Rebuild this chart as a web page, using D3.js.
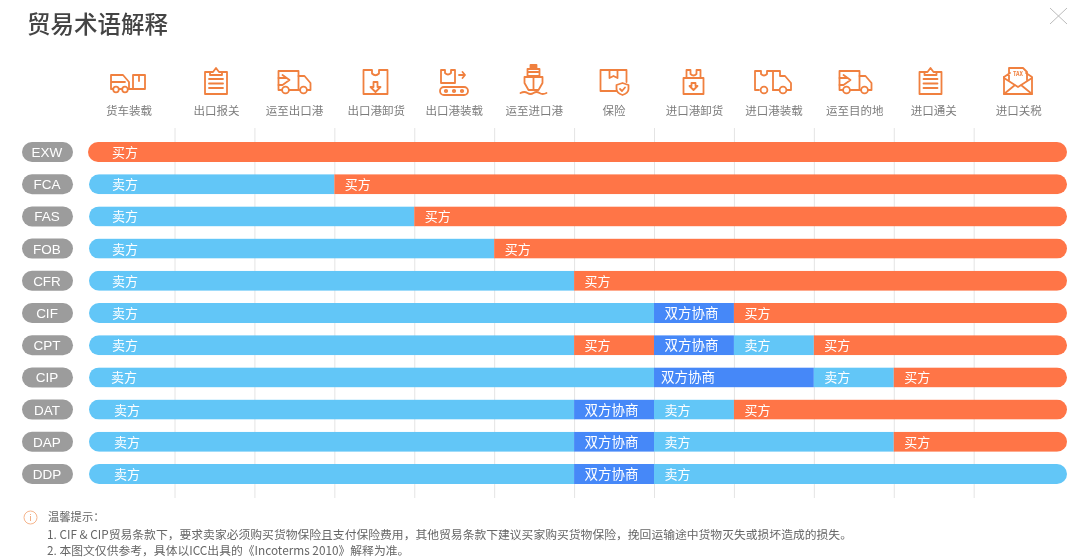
<!DOCTYPE html>
<html>
<head>
<meta charset="utf-8">
<script src="https://cdn.jsdelivr.net/npm/d3@7"></script>
<style>
  html, body { margin: 0; padding: 0; background: #fff; }
  svg { display: block; filter: blur(0.4px); }
  text { font-family: "Noto Sans CJK SC", "Noto Sans", sans-serif; }
</style>
</head>
<body>
<div id="chart"></div>
<script>
// trade terms, top to bottom
var terms = ["EXW", "FCA", "FAS", "FOB", "CFR", "CIF", "CPT", "CIP", "DAT", "DAP", "DDP"];

// the twelve stages of a shipment
var stages = ["货车装载", "出口报关", "运至出口港", "出口港卸货", "出口港装载", "运至进口港",
              "保险", "进口港卸货", "进口港装载", "运至目的地", "进口通关", "进口关税"];

// who pays, one row per term: each segment runs up to the stage count in rowEnds
var rowParties = [
    ["买方"],
    ["卖方", "买方"],
    ["卖方", "买方"],
    ["卖方", "买方"],
    ["卖方", "买方"],
    ["卖方", "双方协商", "买方"],
    ["卖方", "买方", "双方协商", "卖方", "买方"],
    ["卖方", "双方协商", "卖方", "买方"],
    ["卖方", "双方协商", "卖方", "买方"],
    ["卖方", "双方协商", "卖方", "买方"],
    ["卖方", "双方协商", "卖方"]
];
var rowEnds = [
    [12],
    [3, 12],
    [4, 12],
    [5, 12],
    [6, 12],
    [7, 8, 12],
    [6, 7, 8, 9, 12],
    [7, 9, 10, 12],
    [6, 7, 8, 12],
    [6, 7, 10, 12],
    [6, 7, 12]
];

var noteTitle = "温馨提示：";
var notes = [
    "1. CIF & CIP贸易条款下，要求卖家必须购买货物保险且支付保险费用，其他贸易条款下建议买家购买货物保险，挽回运输途中货物灭失或损坏造成的损失。",
    "2. 本图文仅供参考，具体以ICC出具的《Incoterms 2010》解释为准。"
];

var svgWidth = 1080;
var svgHeight = 559;
var barLeft = 89;
var barRight = 1067;
var barHeight = 20;
var iconColor = "#f0803f";

var partyColor = d3.scaleOrdinal()
    .domain(["买方", "卖方", "双方协商"])
    .range(["#ff7547", "#62c6f7", "#4688f8"]);

var svg = d3.select("#chart")
    .append("svg")
    .attr("width", svgWidth)
    .attr("height", svgHeight);

var xScale = d3.scaleLinear().domain([0, 12]).range([94.6, 1053.6]);
var yScale = d3.scalePoint().domain(terms).range([152, 474]);

// title and close button
svg.append("text")
    .attr("x", 27)
    .attr("y", 33)
    .attr("fill", "#444")
    .attr("font-size", 23.5)
    .attr("font-weight", 500)
    .text("贸易术语解释");

svg.append("path")
    .attr("d", "M1050,8L1067,24M1067,8L1050,24")
    .attr("stroke", "#bbb")
    .attr("fill", "none");

// vertical grid comes from an axis with long ticks
var grid = svg.append("g")
    .attr("transform", "translate(0,128)")
    .call(d3.axisBottom(xScale).tickValues(d3.range(1, 12)).tickSize(370).tickFormat(""));
grid.select(".domain").remove();
grid.selectAll("line").attr("stroke", "#e4e4e4");

// stage labels
var labelNudge = { 0: -5.5, 1: 2, 3: 2, 7: 0.5, 9: 1, 11: 5 };
svg.selectAll("text.stage")
    .data(stages)
    .enter()
    .append("text")
    .attr("class", "stage")
    .attr("x", (d, i) => xScale(i + 0.5) + (labelNudge[i] || 0))
    .attr("y", 115)
    .attr("text-anchor", "middle")
    .attr("fill", "#7c7c7c")
    .attr("font-size", 11.5)
    .text(d => d);

// rows
var defs = svg.append("defs");
terms.forEach(function(term, r) {
    var y = yScale(term) - barHeight / 2;
    var left = r == 0 ? barLeft - 1 : barLeft;

    defs.append("clipPath")
        .attr("id", "row" + r)
        .append("rect")
        .attr("x", left)
        .attr("y", y)
        .attr("width", barRight - left)
        .attr("height", barHeight)
        .attr("rx", 10);

    // pill with the term name
    svg.append("rect")
        .attr("x", 22)
        .attr("y", y)
        .attr("width", 51)
        .attr("height", barHeight)
        .attr("rx", 10)
        .attr("fill", "#9c9c9c");
    svg.append("text")
        .attr("x", 47)
        .attr("y", y + 15)
        .attr("text-anchor", "middle")
        .attr("fill", "#fff")
        .style("font-family", "'Liberation Sans'")
        .attr("font-size", 13.5)
        .text(term);

    var row = svg.append("g").attr("clip-path", "url(#row" + r + ")");
    var start = 0;
    rowParties[r].forEach(function(party, s) {
        var end = rowEnds[r][s];
        var x0 = start == 0 ? left : xScale(start);
        var x1 = end == 12 ? barRight : xScale(end);
        row.append("rect")
            .attr("x", x0)
            .attr("y", y)
            .attr("width", x1 - x0)
            .attr("height", barHeight)
            .attr("fill", partyColor(party));

        // first label sits a bit further in, a few rows are offset in the original
        var textX = start == 0 ? 112 + (r >= 8 ? 2 : 0) - (r == 7 ? 1 : 0) : xScale(start) + 10.5;
        if (r == 7 && s == 1) textX -= 3.5;
        svg.append("text")
            .attr("x", textX)
            .attr("y", y + 15)
            .attr("fill", "#fff")
            .attr("font-size", party == "双方协商" ? 13.5 : 13)
            .text(party);
        start = end;
    });
});

// icons
function icon(cx, cy) {
    return svg.append("g")
        .attr("transform", "translate(" + cx + "," + cy + ")")
        .attr("fill", "none")
        .attr("stroke", iconColor)
        .attr("stroke-width", 1.8)
        .attr("stroke-linejoin", "round")
        .attr("stroke-linecap", "round");
}
function p(g, d) { g.append("path").attr("d", d); }
function c(g, x, y, r) { g.append("circle").attr("cx", x).attr("cy", y).attr("r", r).attr("fill", "#fff"); }

function clipboard(cx) {
    var g = icon(cx, 81);
    p(g, "M-6,-9H-11V13H11V-9H6");
    p(g, "M-6,-6V-9H-3L0,-13L3,-9H6V-6Z");
    p(g, "M-7,-2H7M-7,2.5H7M-7,7H7");
}
function truck(cx) {
    var g = icon(cx, 82);
    p(g, "M-16,8V-11H4V8Z");
    p(g, "M4,-6H10L16,1V8H4");
    p(g, "M-16,-4H-8M-16,3H-12M-12,-7L-5,-2L-12,3");
    c(g, -9, 8, 3.4);
    c(g, 9, 8, 3.4);
}
function notchBox(g, x, y, w, h) {
    var m = x + w / 2;
    p(g, "M" + (m - 3.5) + "," + y + "V" + (y + 3.5) + "Q" + m + "," + (y + 7) + " " + (m + 3.5) + "," + (y + 3.5) +
        "V" + y + "H" + (x + w) + "V" + (y + h) + "H" + x + "V" + y + "Z");
}

(function() {
    var g = icon(128, 82);
    p(g, "M-17,7V-7H-5L1,0V7H-17M-17,0H-3");
    c(g, -12, 7.5, 2.8);
    c(g, -3, 7.5, 2.8);
    p(g, "M5,-7H17V7H5ZM11,-7V-1M1,7H5");
})();
clipboard(216);
truck(294.5);
(function() {
    var g = icon(375.5, 82);
    notchBox(g, -12, -12, 24, 24);
    p(g, "M-2,0V5H-5L0,10L5,5H2V0Z");
})();
(function() {
    var g = icon(454, 82);
    p(g, "M-13,-12H-9V-9Q-6,-6 -3,-9V-12H1V1H-13Z");
    p(g, "M5,-7H11M8.5,-10L11,-7L8.5,-4");
    g.append("rect").attr("x", -14).attr("y", 5).attr("width", 28).attr("height", 8).attr("rx", 4);
    [-8, 0, 8].forEach(function(d) { c(g, d, 9, 1.2); });
})();
(function() {
    var g = icon(533.5, 80);
    g.append("rect").attr("x", -3).attr("y", -15).attr("width", 6).attr("height", 4).attr("fill", iconColor);
    p(g, "M-6,-11H6V-4H-6Z");
    p(g, "M-9,-3H9V3L5,10H-5L-9,3Z");
    p(g, "M0,-3V10M-5,-8H5");
    p(g, "M-13,13Q-9,11 -6,13T0,13T6,13T13,13");
})();
(function() {
    var g = icon(613.5, 81);
    p(g, "M3,10H-13V-11H13V1");
    p(g, "M-4,-11V-3L0,-5L4,-3V-11");
    p(g, "M9,2L15,4V8Q15,12 9,14Q3,12 3,8V4Z");
    p(g, "M6.5,8L8.5,10L11.5,6.5");
})();
(function() {
    var g = icon(693.5, 82);
    p(g, "M-10,-4H10V12H-10Z");
    p(g, "M-7,-4V-12H-3V-8Q0,-5 3,-8V-12H7V-4");
    p(g, "M-2,1V4H-4L0,8L4,4H2V1Z");
})();
(function() {
    var g = icon(773, 82);
    p(g, "M-14,8H-18V-11H-12V-8Q-9,-5 -6,-8V-11H0V8");
    p(g, "M0,-11H7L7,-6H12L18,1V8H0");
    c(g, -9, 8, 3.4);
    c(g, 10, 8, 3.4);
})();
truck(855.5);
clipboard(930.5);
(function() {
    var g = icon(1018, 81);
    p(g, "M-14,-4V13H14V-4L8,-8");
    p(g, "M-14,-4L-8,-8M-9,-1V-13H5L9,-9V-1");
    p(g, "M-14,-3L0,6L14,-3M-14,13L-3,4M14,13L3,4");
    g.append("text")
        .attr("x", 0)
        .attr("y", -5)
        .attr("text-anchor", "middle")
        .attr("fill", iconColor)
        .attr("stroke", "none")
        .attr("font-size", 5.5)
        .attr("font-weight", 700)
        .text("TAX");
})();

// note at the bottom
svg.append("circle")
    .attr("cx", 30.5)
    .attr("cy", 517.5)
    .attr("r", 6.5)
    .attr("fill", "none")
    .attr("stroke", "#f5b48c");
svg.append("text")
    .attr("x", 30.5)
    .attr("y", 521)
    .attr("text-anchor", "middle")
    .attr("fill", "#f0a070")
    .attr("font-size", 9)
    .text("i");
svg.append("text")
    .attr("x", 48)
    .attr("y", 521)
    .attr("fill", "#666")
    .attr("font-size", 11.3)
    .text(noteTitle);
svg.selectAll("text.note")
    .data(notes)
    .enter()
    .append("text")
    .attr("class", "note")
    .attr("x", 47)
    .attr("y", (d, i) => 539 + i * 16)
    .attr("fill", "#666")
    .attr("font-size", 11.8)
    .text(d => d);
</script>
</body>
</html>
